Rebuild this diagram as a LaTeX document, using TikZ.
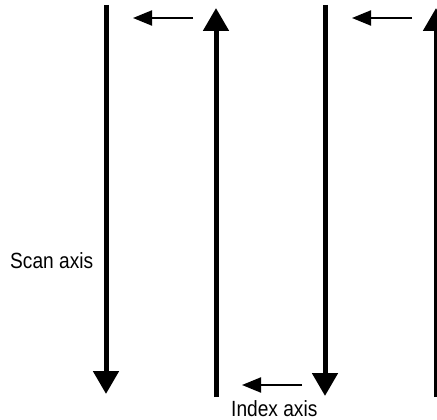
\documentclass[tikz,border=0pt]{standalone}
\usepackage{fontspec}
\setmainfont{Liberation Sans}
\usetikzlibrary{arrows.meta}
\tikzset{
  bigarrow/.style={line width=5pt,-{Triangle[length=23pt,width=25pt]}},
  smallarrow/.style={line width=2pt,-{Triangle[length=19pt,width=15pt]}},
  lbl/.style={inner sep=0pt,font=\fontsize{22}{24}\selectfont}
}
\begin{document}
\begin{tikzpicture}[x=1pt,y=-1pt]
\useasboundingbox (0,0) rectangle (437,420);
% long axis lines
\coordinate (a1s) at (106,5);   \coordinate (a1e) at (106,394);
\coordinate (a2s) at (216,397); \coordinate (a2e) at (216,8);
\coordinate (a3s) at (325,5);   \coordinate (a3e) at (325,396);
\coordinate (a4s) at (436,397); \coordinate (a4e) at (436,8);
\draw[bigarrow] (a1s) -- (a1e);
\draw[bigarrow] (a2s) -- (a2e);
\draw[bigarrow] (a3s) -- (a3e);
\draw[bigarrow] (a4s) -- (a4e);
% index step arrows
\coordinate (s1s) at (193,18); \coordinate (s1e) at (133,18);
\coordinate (s2s) at (412,18); \coordinate (s2e) at (352,18);
\coordinate (s3s) at (302,385); \coordinate (s3e) at (242,385);
\draw[smallarrow] (s1s) -- (s1e);
\draw[smallarrow] (s2s) -- (s2e);
\draw[smallarrow] (s3s) -- (s3e);
% labels
\node[lbl,anchor=base west] (scan) at (10,268) {\scalebox{0.87}[1]{Scan axis}};
\node[lbl,anchor=base west] (index) at (231,416) {\scalebox{0.87}[1]{Index axis}};
\end{tikzpicture}
\end{document}
